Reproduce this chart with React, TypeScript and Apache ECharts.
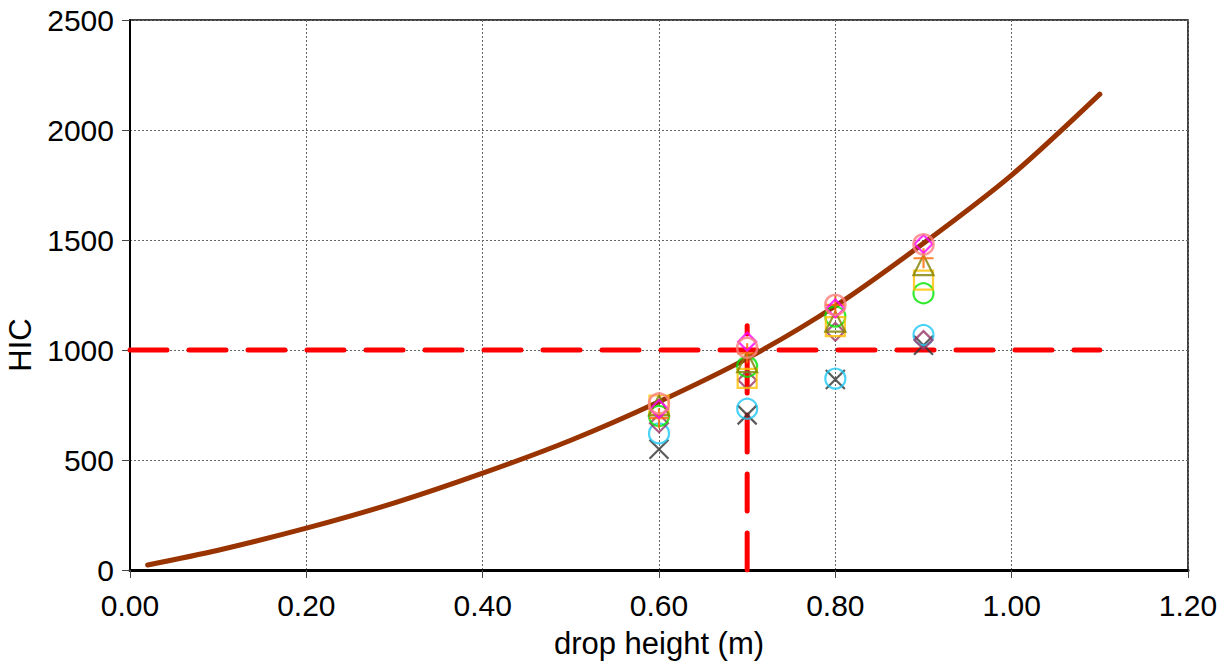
import React, { useEffect, useRef } from "react";
import * as echarts from "echarts";

const heights = [0.6, 0.7, 0.8, 0.9];
const seriesCross = [549, 705, 866, 1022];
const seriesCyan = [621, 733, 870, 1068];
const seriesPurpleDiamond = [667, 864, 1083, 1045];
const seriesGreen = [700, 924, 1152, 1258];
const seriesSquare = [750, 871, 1106, 1318];
const seriesTriangle = [748, 945, 1129, 1386];
const seriesPlus = [690, 985, 1205, 1417];
const seriesMagenta = [732, 1038, 1189, 1482];
const seriesSalmon = [757, 1010, 1205, 1480];

const curveX = [0.02, 0.1, 0.2, 0.3, 0.4, 0.5, 0.6, 0.7, 0.8, 0.9, 1.0, 1.1];
const curveY = [23, 90, 190, 305, 440, 590, 765, 962, 1200, 1485, 1795, 2163];

const thresholdHIC = 1000;
const thresholdHeight = 0.7;
const hLineX = [0, 1.1];
const vLineTop = 1110;

const xTicks = [0, 0.2, 0.4, 0.6, 0.8, 1.0, 1.2];
const yTicks = [0, 500, 1000, 1500, 2000, 2500];

const FONT = "Liberation Sans, Arial, sans-serif";

const X_PATH = "path://M0,0L10,10M10,0L0,10";
const PLUS_PATH = "path://M5,0L5,10M0,5L10,5";

export default function App() {
  const ref = useRef<HTMLDivElement>(null);
  useEffect(() => {
    const chart = echarts.init(ref.current!, null, { renderer: "svg" });
    const pts = (ys: number[]) => heights.map((h, i) => [h, ys[i]]);
    const marker = (
      name: string,
      ys: number[],
      symbol: string,
      color: string,
      size: number,
      width = 2.2
    ) => ({
      name,
      type: "scatter",
      data: pts(ys),
      symbol,
      symbolSize: size,
      itemStyle: { color: "rgba(0,0,0,0)", borderColor: color, borderWidth: width },
      z: 5,
    });
    chart.setOption({
      animation: false,
      backgroundColor: "#ffffff",
      textStyle: { fontFamily: FONT },
      grid: {
        left: 130,
        right: 43,
        top: 20,
        bottom: 96,
        containLabel: false,
        outerBoundsMode: "none",
        show: true,
        borderColor: "#000",
        borderWidth: 1.5,
        backgroundColor: "transparent",
      },
      xAxis: {
        type: "value",
        min: xTicks[0],
        max: xTicks[xTicks.length - 1],
        interval: 0.2,
        name: "drop height (m)",
        nameLocation: "middle",
        nameGap: 58,
        nameTextStyle: { fontSize: 31, color: "#000", fontFamily: FONT },
        axisLine: { show: true, lineStyle: { color: "#000", width: 3 } },
        axisTick: { show: true, inside: false, length: 8, lineStyle: { color: "#444", width: 1 } },
        axisLabel: {
          fontSize: 30,
          color: "#000",
          margin: 20,
          fontFamily: FONT,
          formatter: (v: number) => v.toFixed(2),
        },
        splitLine: { show: true, lineStyle: { color: "#666", type: [2, 2], width: 1 } },
      },
      yAxis: {
        type: "value",
        min: yTicks[0],
        max: yTicks[yTicks.length - 1],
        interval: 500,
        name: "HIC",
        nameLocation: "middle",
        nameGap: 92,
        nameTextStyle: { fontSize: 31, color: "#000", fontFamily: FONT, padding: [0, 100, 0, 0] },
        axisLine: { show: true, lineStyle: { color: "#000", width: 2 } },
        axisTick: { show: true, inside: false, length: 8, lineStyle: { color: "#444", width: 1 } },
        axisLabel: {
          fontSize: 30,
          color: "#000",
          margin: 16,
          fontFamily: FONT,
          formatter: (v: number) => String(v),
        },
        splitLine: { show: true, lineStyle: { color: "#666", type: [2, 2], width: 1 } },
      },
      series: [
        {
          name: "HIC threshold",
          type: "line",
          data: hLineX.map((x) => [x, thresholdHIC]),
          showSymbol: false,
          symbol: "none",
          lineStyle: { color: "#FF0000", width: 5, type: [37, 22], cap: "round" },
          z: 2,
        },
        {
          name: "height threshold",
          type: "line",
          data: [
            [thresholdHeight, 0],
            [thresholdHeight, vLineTop],
          ],
          showSymbol: false,
          symbol: "none",
          lineStyle: { color: "#FF0000", width: 5, type: [37, 22], cap: "round" },
          z: 2,
        },
        {
          name: "fit",
          type: "line",
          data: curveX.map((x, i) => [x, curveY[i]]),
          smooth: 0.3,
          showSymbol: false,
          symbol: "none",
          lineStyle: { color: "#993300", width: 5, cap: "round" },
          z: 3,
        },
        marker("s1", seriesCross, X_PATH, "#333333", 19),
        marker("s2", seriesCyan, "circle", "#1EC8F5", 20),
        marker("s3", seriesPurpleDiamond, "diamond", "#993366", 18),
        marker("s4", seriesGreen, "circle", "#00E600", 20),
        marker("s5", seriesSquare, "rect", "#FFC000", 19),
        marker("s6", seriesTriangle, "triangle", "#808000", 20),
        marker("s7", seriesPlus, PLUS_PATH, "#FF6600", 20),
        marker("s8", seriesMagenta, "diamond", "#FF00FF", 18),
        marker("s9", seriesSalmon, "circle", "#FF8080", 20, 2.6),
      ],
    });
    return () => chart.dispose();
  }, []);
  return <div ref={ref} style={{ width: 1231, height: 666, position: "absolute", left: 0, top: 0 }} />;
}
